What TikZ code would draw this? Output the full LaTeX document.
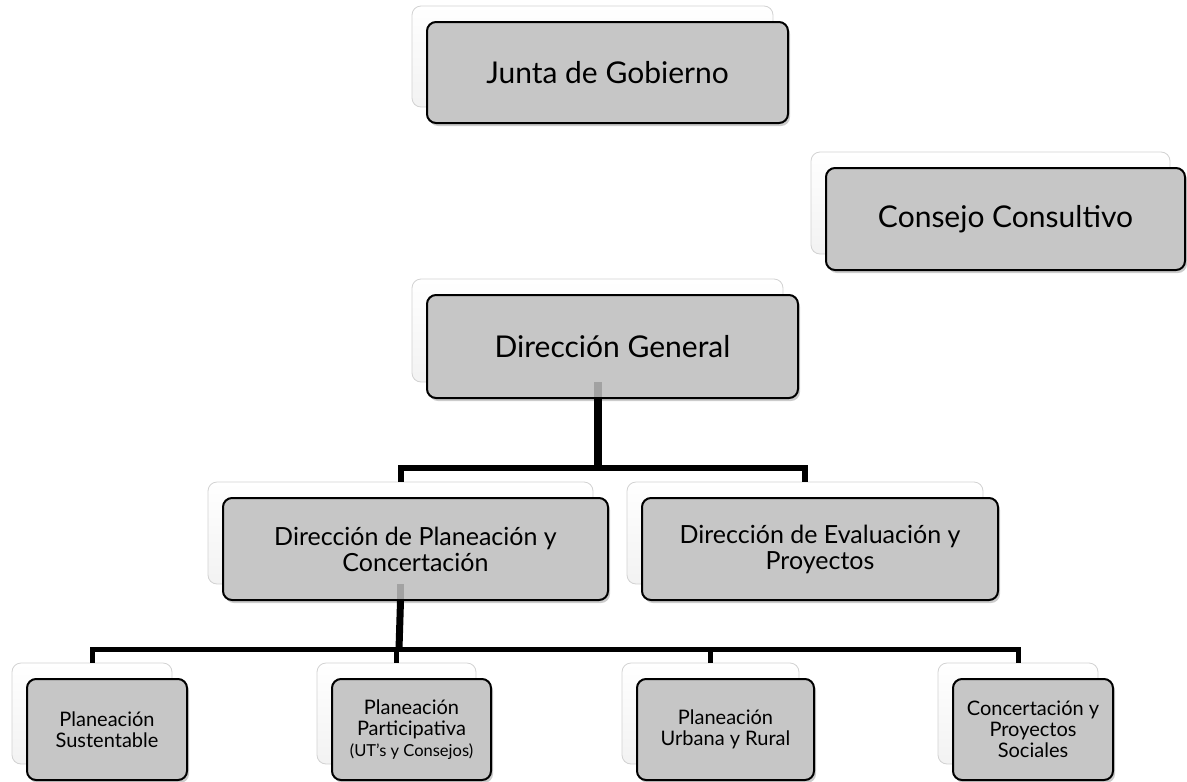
\documentclass[tikz,border=0pt]{standalone}
\usepackage{fontspec}
\setmainfont{Lato}
\usepackage{xcolor}
\usepackage{tikz}
\usetikzlibrary{shadows,calc}

\definecolor{boxgray}{RGB}{198,198,198}

\begin{document}
\begin{tikzpicture}[x=1pt,y=-1pt,
   bk/.style={rectangle,rounded corners=9pt,draw=gray!35,line width=0.8pt,
     top color=white,bottom color=gray!10,inner sep=0pt},
   fr/.style={rectangle,rounded corners=9pt,draw=black,line width=2pt,fill=boxgray,
     align=center,inner sep=0pt,
     drop shadow={opacity=0.4,shadow xshift=2pt,shadow yshift=-3pt}},
   big/.style={font=\fontsize{30}{34}\selectfont},
   mid/.style={font=\fontsize{25}{26}\selectfont},
   sml/.style={font=\fontsize{20}{21}\selectfont},
   bus/.style={line width=6pt},
   ghost/.style={line width=8pt,draw=black,opacity=0.18}]
  \useasboundingbox (0,0) rectangle (1187,782);

  % back plates
  \node[bk,minimum width=361pt,minimum height=101pt] (jgb) at (592.5,56.5) {};
  \node[bk,minimum width=359pt,minimum height=102pt] (ccb) at (990.5,203) {};
  \node[bk,minimum width=371pt,minimum height=103pt] (dgb) at (597.5,330.5) {};
  \node[bk,minimum width=385pt,minimum height=102pt] (dpcb) at (400.5,533) {};
  \node[bk,minimum width=356pt,minimum height=102pt] (depb) at (805,533) {};
  \node[bk,minimum width=160pt,minimum height=101pt] (psb) at (92,713.5) {};
  \node[bk,minimum width=159pt,minimum height=101pt] (ppb) at (396.5,713.5) {};
  \node[bk,minimum width=177pt,minimum height=101pt] (pub) at (710.5,713.5) {};
  \node[bk,minimum width=160pt,minimum height=101pt] (cpb) at (1018,713.5) {};

  % front boxes
  \node[fr,big,minimum width=361pt,minimum height=101pt] (jg) at (607.5,72.5) {Junta de Gobierno};
  \node[fr,big,minimum width=359pt,minimum height=102pt] (cc) at (1005.5,219) {Consejo Consultivo};
  \node[fr,big,minimum width=371pt,minimum height=103pt] (dg) at (612.5,346.5) {Dirección General};
  \node[fr,mid,minimum width=385pt,minimum height=102pt] (dpc) at (415.5,549) {Dirección de Planeación y\\Concertación};
  \node[fr,mid,minimum width=356pt,minimum height=102pt] (dep) at (820,549) {Dirección de Evaluación y\\Proyectos};
  \node[fr,sml,minimum width=160pt,minimum height=101pt] (ps) at (107,729.5) {Planeación\\Sustentable};
  \node[fr,sml,minimum width=159pt,minimum height=101pt] (pp) at (411.5,729.5)
    {Planeación\\Participativa\\{\fontsize{16.5}{19}\selectfont(UT’s y Consejos)}};
  \node[fr,sml,minimum width=177pt,minimum height=101pt] (pu) at (725.5,729.5) {Planeación\\Urbana y Rural};
  \node[fr,sml,minimum width=160pt,minimum height=101pt] (cp) at (1033,729.5) {Concertación y\\Proyectos\\Sociales};

  % connectors
  \coordinate (j1) at (597.5,468);
  \coordinate (j2) at (399,649);
  \draw[ghost] (dgb.south) -- (dg.south -| dgb.south);
  \draw[line width=8pt] (dg.south -| dgb.south) -- (j1);
  \draw[bus] (dpcb.north) |- (j1) -| (depb.north);
  \draw[ghost,line width=7pt] (dpcb.south) -- (dpc.south -| dpcb.south);
  \draw[line width=7pt] (dpc.south -| dpcb.south) -- (j2);
  \draw[bus,line width=5pt] (psb.north) |- (j2) -| (cpb.north);
  \draw[bus,line width=5pt] (ppb.north) -- (ppb.north |- j2);
  \draw[bus,line width=5pt] (pub.north) -- (pub.north |- j2);
\end{tikzpicture}
\end{document}
